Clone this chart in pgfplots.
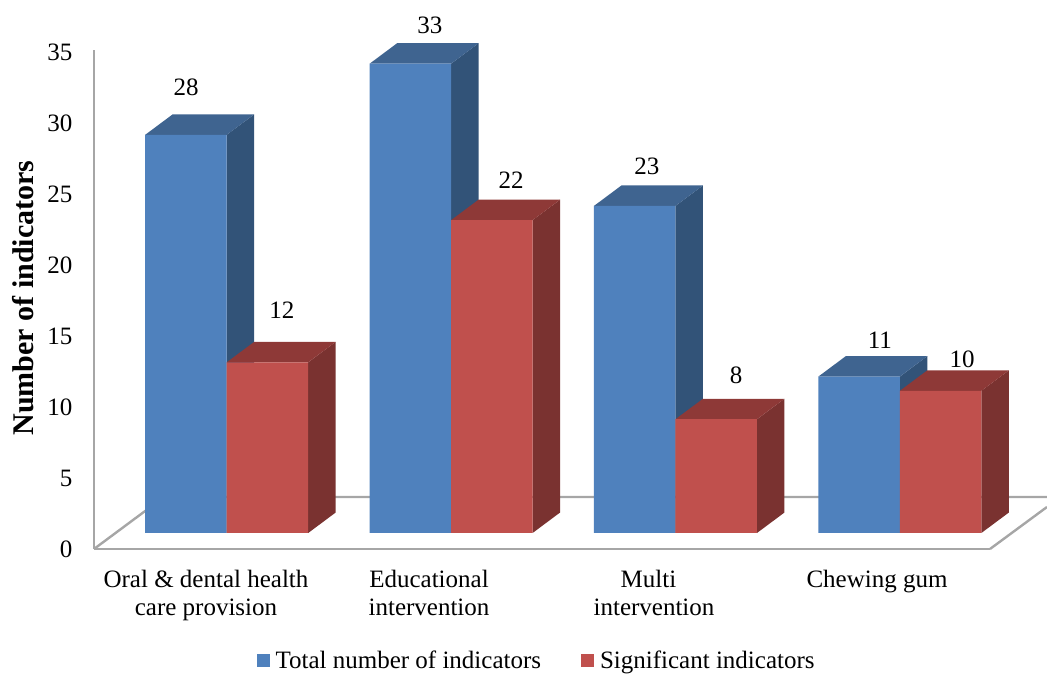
\documentclass[border=0pt]{standalone}
\usepackage{fontspec}
\setmainfont{Liberation Serif}
\usepackage{pgfplots}
\pgfplotsset{compat=1.18}

\definecolor{blueFront}{HTML}{4F81BD}
\definecolor{blueTop}{HTML}{3F6490}
\definecolor{blueSide}{HTML}{325378}
\definecolor{redFront}{HTML}{C0504D}
\definecolor{redTop}{HTML}{8E3937}
\definecolor{redSide}{HTML}{7A3230}
\definecolor{wallGray}{HTML}{A6A6A6}

\newcommand{\chartfont}{\fontsize{25}{28}\selectfont}
% one shaded face of a bar
\newcommand{\face}[2]{\addplot[fill=#1,draw=none,mark=none,forget plot] coordinates {#2} -- cycle;}

\begin{document}
\begin{tikzpicture}[x=1pt,y=1pt]
\path[use as bounding box] (0,0) rectangle (1047,674);

% value scale, wall and floor
\begin{axis}[
  at={(94pt,125pt)}, anchor=south west,
  scale only axis, width=896pt, height=499pt,
  xmin=94, xmax=990, ymin=0, ymax=35.14,
  clip=false,
  axis x line=bottom, axis y line=left,
  axis line style={-, draw=wallGray, line width=2.4pt},
  major tick length=0pt,
  ytick={0,5,10,15,20,25,30,35},
  xtick={206,429,654,877},
  xticklabels={{Oral \& dental health\\care provision},{Educational\\intervention},{Multi\rule{11pt}{0pt}\\intervention},{Chewing gum}},
  /pgf/number format/assume math mode=true,
  tick label style={font=\chartfont},
  yticklabel style={anchor=east, xshift=-18pt},
  xticklabel style={align=center, anchor=north, yshift=-18pt},
  ylabel={\fontsize{30}{31}\selectfont\bfseries Number of indicators},
  every axis y label/.style={at={(rel axis cs:-0.0792,0.503)}, rotate=90, anchor=center},
]
\addplot[draw=wallGray, line width=2.4pt, forget plot] coordinates {(94,0) (164,3.66) (1047,3.66)};
\addplot[draw=wallGray, line width=2.4pt, forget plot] coordinates {(990,0) (1047,2.96)};
\end{axis}

% bars with their depth faces
\begin{axis}[
  at={(0pt,0pt)}, anchor=south west,
  scale only axis, width=1047pt, height=674pt,
  xmin=-1.0102, xmax=3.6555, ymin=-9.916, ymax=37.482,
  hide axis, clip=false,
  legend style={at={(0.5125,0.0195)}, anchor=center, draw=none, fill=none,
    font=\chartfont, inner sep=0pt, row sep=0pt},
  legend columns=2, legend cell align=left,
  /tikz/every even column/.append style={column sep=38pt},
]
% Total number of indicators
\face{blueSide}{(0,0)(0.1225,1.44)(0.1225,29.44)(0,28)}
\face{blueTop}{(-0.3632,28)(-0.2407,29.44)(0.1225,29.44)(0,28)}
\face{blueSide}{(1,0)(1.1225,1.44)(1.1225,34.44)(1,33)}
\face{blueTop}{(0.6368,33)(0.7593,34.44)(1.1225,34.44)(1,33)}
\face{blueSide}{(2,0)(2.1225,1.44)(2.1225,24.44)(2,23)}
\face{blueTop}{(1.6368,23)(1.7593,24.44)(2.1225,24.44)(2,23)}
\face{blueSide}{(3,0)(3.1225,1.44)(3.1225,12.44)(3,11)}
\face{blueTop}{(2.6368,11)(2.7593,12.44)(3.1225,12.44)(3,11)}
\addplot[ybar, bar width=0.3632, bar shift=-0.1816, fill=blueFront, draw=none,
  legend image code/.code={\path (0pt,0pt) (17pt,0pt);\fill[blueFront] (0pt,-6.5pt) rectangle (13pt,6.5pt);}]
  coordinates {(0,28) (1,33) (2,23) (3,11)};
\addlegendentry{Total number of indicators}
% Significant indicators
\face{redSide}{(0.3632,0)(0.4857,1.44)(0.4857,13.44)(0.3632,12)}
\face{redTop}{(0,12)(0.1225,13.44)(0.4857,13.44)(0.3632,12)}
\face{redSide}{(1.3632,0)(1.4857,1.44)(1.4857,23.44)(1.3632,22)}
\face{redTop}{(1,22)(1.1225,23.44)(1.4857,23.44)(1.3632,22)}
\face{redSide}{(2.3632,0)(2.4857,1.44)(2.4857,9.44)(2.3632,8)}
\face{redTop}{(2,8)(2.1225,9.44)(2.4857,9.44)(2.3632,8)}
\face{redSide}{(3.3632,0)(3.4857,1.44)(3.4857,11.44)(3.3632,10)}
\face{redTop}{(3,10)(3.1225,11.44)(3.4857,11.44)(3.3632,10)}
\addplot[ybar, bar width=0.3632, bar shift=0.1816, fill=redFront, draw=none,
  legend image code/.code={\path (0pt,0pt) (17pt,0pt);\fill[redFront] (0pt,-6.5pt) rectangle (13pt,6.5pt);}]
  coordinates {(0,12) (1,22) (2,8) (3,10)};
\addlegendentry{Significant indicators}
% value labels
\node[font=\chartfont] at (axis cs:-0.181,31.36) {28};
\node[font=\chartfont] at (axis cs:0.246,15.68) {12};
\node[font=\chartfont] at (axis cs:0.906,35.72) {33};
\node[font=\chartfont] at (axis cs:1.267,24.82) {22};
\node[font=\chartfont] at (axis cs:1.873,25.81) {23};
\node[font=\chartfont] at (axis cs:2.27,11.11) {8};
\node[font=\chartfont] at (axis cs:2.911,13.57) {11};
\node[font=\chartfont] at (axis cs:3.277,12.24) {10};
\end{axis}
\end{tikzpicture}
\end{document}
